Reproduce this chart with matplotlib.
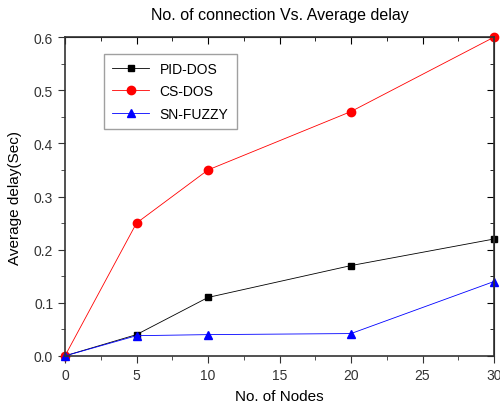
import numpy as np
import matplotlib
matplotlib.use("Agg")
import matplotlib.pyplot as plt
from matplotlib.ticker import MultipleLocator

plt.rcParams['font.family'] = ['Liberation Sans', 'DejaVu Sans']

nodes = [0, 5, 10, 20, 30]
pid_dos = [0.0, 0.04, 0.11, 0.17, 0.22]
cs_dos = [0.0, 0.25, 0.35, 0.46, 0.60]
sn_fuzzy = [0.0, 0.038, 0.040, 0.042, 0.14]

fig = plt.figure(figsize=(5, 4.06), dpi=100)
ax = fig.add_axes([0.13, 0.121, 0.858, 0.785])

ax.plot(nodes, pid_dos, color='black', lw=0.6, marker='s', ms=5, label='PID-DOS', clip_on=False)
ax.plot(nodes, cs_dos, color='red', lw=0.6, marker='o', ms=6, label='CS-DOS', clip_on=False)
ax.plot(nodes, sn_fuzzy, color='blue', lw=0.6, marker='^', ms=6, label='SN-FUZZY', clip_on=False)

ax.set_xlim(0, 30)
ax.set_ylim(0, 0.6)
ax.xaxis.set_major_locator(MultipleLocator(5))
ax.xaxis.set_minor_locator(MultipleLocator(2.5))
ax.yaxis.set_major_locator(MultipleLocator(0.1))
ax.yaxis.set_minor_locator(MultipleLocator(0.05))
ax.yaxis.set_major_formatter(plt.FormatStrFormatter('%.1f'))

ax.tick_params(which='both', direction='out', top=False, right=False, labelsize=10, colors='#333333')
ax.tick_params(which='major', length=5)
ax.tick_params(which='minor', length=3)
ax2 = ax.secondary_xaxis('top')
ax2.xaxis.set_major_locator(MultipleLocator(5))
ax2.xaxis.set_minor_locator(MultipleLocator(2.5))
ax2.tick_params(which='both', direction='in', labeltop=False)
ax2.tick_params(which='major', length=5)
ax2.tick_params(which='minor', length=3)
ay2 = ax.secondary_yaxis('right')
ay2.yaxis.set_major_locator(MultipleLocator(0.1))
ay2.yaxis.set_minor_locator(MultipleLocator(0.05))
ay2.tick_params(which='both', direction='in', labelright=False)
ay2.tick_params(which='major', length=5)
ay2.tick_params(which='minor', length=3)

for s in ax.spines.values():
    s.set_linewidth(1.2)
    s.set_color('#333333')

ax.set_title('No. of connection Vs. Average delay', fontsize=11.5, pad=13)
ax.set_xlabel('No. of Nodes', fontsize=11, labelpad=5)
ax.set_ylabel('Average delay(Sec)', fontsize=11)
ax.yaxis.set_label_coords(-0.1, 0.5)

leg = ax.legend(loc='upper left', bbox_to_anchor=(0.075, 0.97), fancybox=False,
                edgecolor='#888888', fontsize=10, handlelength=2.6, borderpad=0.6,
                labelspacing=0.6)
leg.get_frame().set_linewidth(1.0)

fig.savefig('out.png', dpi=100)
